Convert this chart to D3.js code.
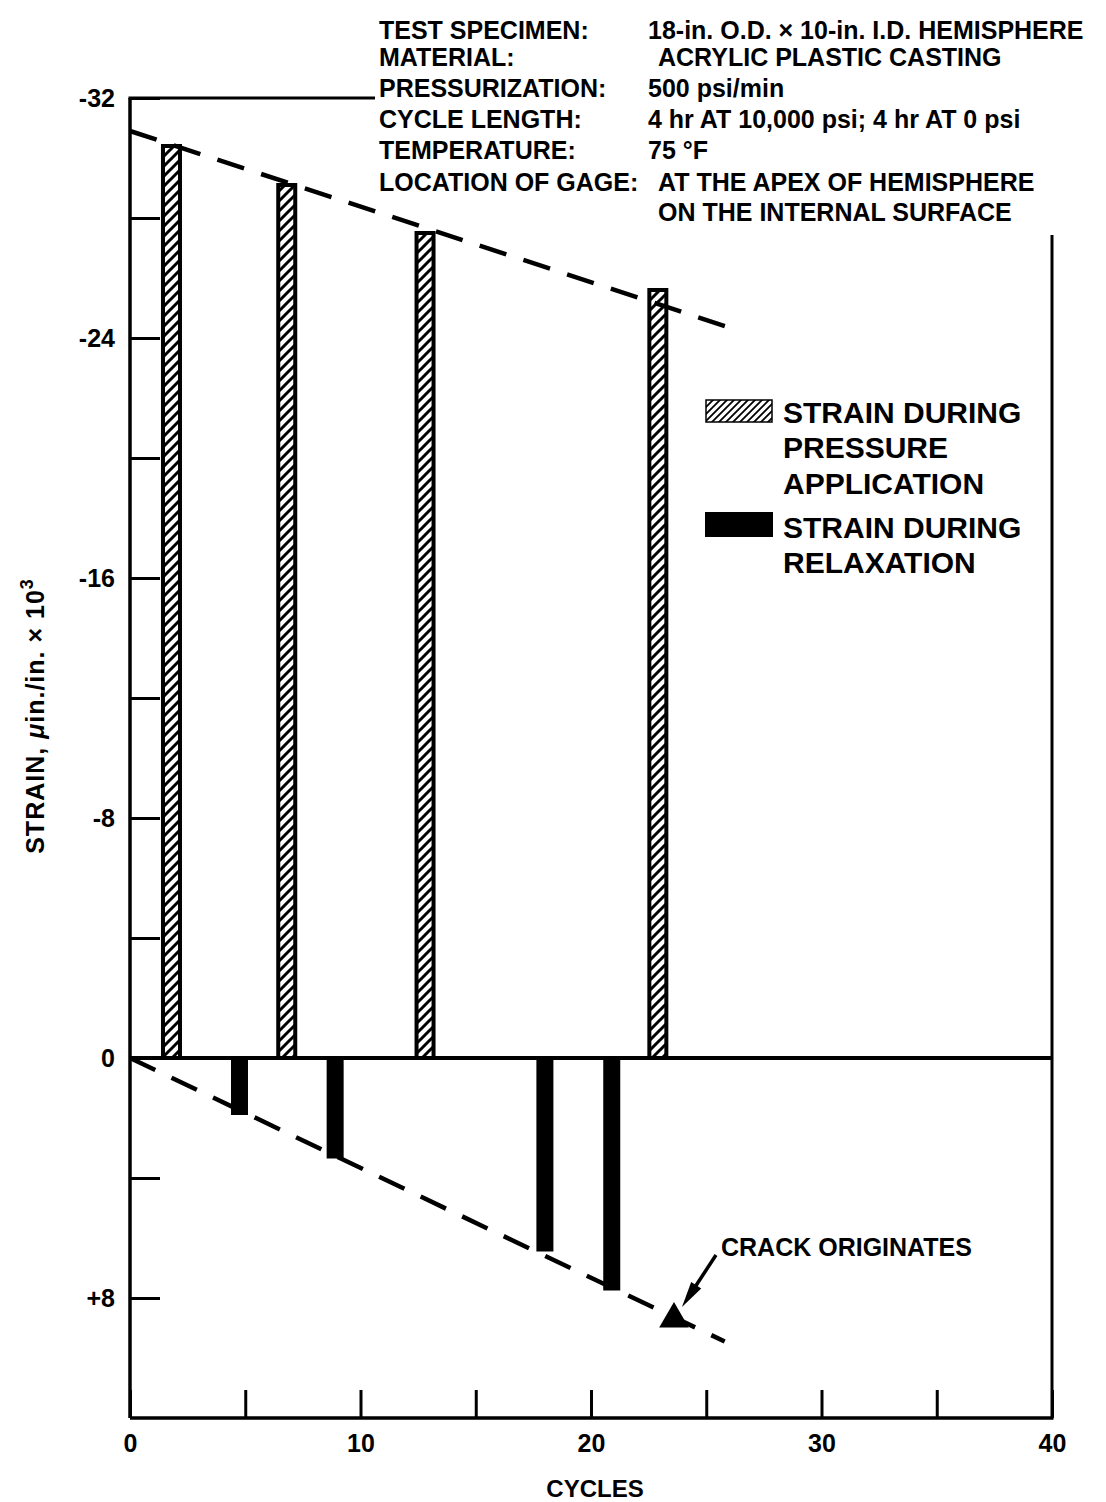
<!DOCTYPE html>
<html><head><meta charset="utf-8">
<script src="https://cdn.jsdelivr.net/npm/d3@7"></script>
<style>
body{margin:0;background:#fff}
svg{display:block}
text{font-family:"Liberation Sans",Arial,Helvetica,sans-serif;font-weight:bold;fill:#000}
</style>
</head><body>
<svg id="c" width="1106" height="1502"></svg>
<script>
// ---- data ----
const pressureCycles = [1.8, 6.8, 12.8, 22.9];
const pressureStrain = [-30.4, -29.1, -27.5, -25.6];
const relaxCycles = [4.75, 8.9, 18.0, 20.9];
const relaxStrain = [1.9, 3.35, 6.45, 7.75];
const pressureTrend = [[0, -30.9], [26.2, -24.3]];
const relaxTrend = [[0, 0], [25.8, 9.45]];
const crackPoint = [23.6, 8.7];
const xTickValues = [0, 5, 10, 15, 20, 25, 30, 35, 40];
const xTickLabels = ["0", "", "10", "", "20", "", "30", "", "40"];
const yTickValues = [-32, -28, -24, -20, -16, -12, -8, -4, 0, 4, 8];
const yTickLabels = ["-32", "", "-24", "", "-16", "", "-8", "", "0", "", "+8"];
const infoLabels = ["TEST SPECIMEN:", "MATERIAL:", "PRESSURIZATION:", "CYCLE LENGTH:", "TEMPERATURE:", "LOCATION OF GAGE:", ""];
const infoValues = ["18-in. O.D. \u00D7 10-in. I.D. HEMISPHERE", "ACRYLIC PLASTIC CASTING", "500 psi/min",
  "4 hr AT 10,000 psi; 4 hr AT 0 psi", "75 \u00B0F", "AT THE APEX OF HEMISPHERE", "ON THE INTERNAL SURFACE"];
const legendPressure = ["STRAIN DURING", "PRESSURE", "APPLICATION"];
const legendRelax = ["STRAIN DURING", "RELAXATION"];

// ---- layout ----
const svg = d3.select("#c");
const x = d3.scaleLinear().domain([0, 40]).range([130, 1052]);
const y = d3.scaleLinear().domain([-32, 12]).range([98, 1418]);
const barW = 17;

const defs = svg.append("defs");
defs.append("pattern").attr("id", "hatch").attr("patternUnits", "userSpaceOnUse")
  .attr("width", 10).attr("height", 10)
  .append("path").attr("d", "M-3,3 L3,-3 M0,10 L10,0 M7,13 L13,7")
  .attr("stroke", "#000").attr("stroke-width", 3);
defs.append("pattern").attr("id", "hatchL").attr("patternUnits", "userSpaceOnUse")
  .attr("width", 7).attr("height", 7)
  .append("path").attr("d", "M-2,2 L2,-2 M0,7 L7,0 M5,9 L9,5")
  .attr("stroke", "#000").attr("stroke-width", 1.8);

// axes frame
const g = svg.append("g");
g.append("line").attr("x1", x(0)).attr("x2", x(0)).attr("y1", y(-32)).attr("y2", y(12))
  .attr("stroke", "#000").attr("stroke-width", 3.5);
g.append("line").attr("x1", x(0) - 1.5).attr("x2", 375).attr("y1", y(-32)).attr("y2", y(-32))
  .attr("stroke", "#000").attr("stroke-width", 3);
g.append("line").attr("x1", x(40)).attr("x2", x(40)).attr("y1", 235).attr("y2", y(12))
  .attr("stroke", "#000").attr("stroke-width", 3);
g.append("line").attr("x1", x(0)).attr("x2", x(40) + 1.5).attr("y1", y(12)).attr("y2", y(12))
  .attr("stroke", "#000").attr("stroke-width", 3.5);

// y axis
const yAxis = d3.axisLeft(y).tickValues(yTickValues).tickSize(-30).tickPadding(15)
  .tickFormat((d, i) => yTickLabels[i]);
const ya = svg.append("g").attr("transform", `translate(${x(0)},0)`).call(yAxis);
ya.select(".domain").remove();
ya.selectAll(".tick line").attr("stroke", "#000").attr("stroke-width", 3);
ya.selectAll(".tick text").attr("font-size", 25).attr("font-family", "Liberation Sans").attr("font-weight", "bold");

// x axis
const xAxis = d3.axisBottom(x).tickValues(xTickValues).tickSize(-28).tickPadding(16)
  .tickFormat((d, i) => xTickLabels[i]);
const xa = svg.append("g").attr("transform", `translate(0,${y(12)})`).call(xAxis);
xa.select(".domain").remove();
xa.selectAll(".tick line").attr("stroke", "#000").attr("stroke-width", 3);
xa.selectAll(".tick text").attr("font-size", 25).attr("font-family", "Liberation Sans").attr("font-weight", "bold");

// zero line
svg.append("line").attr("x1", x(0)).attr("x2", x(40)).attr("y1", y(0)).attr("y2", y(0))
  .attr("stroke", "#000").attr("stroke-width", 4);

// pressure bars (hatched)
svg.append("g").selectAll("rect").data(pressureCycles).join("rect")
  .attr("x", d => x(d) - barW / 2)
  .attr("width", barW)
  .attr("y", (d, i) => y(pressureStrain[i]))
  .attr("height", (d, i) => y(0) - y(pressureStrain[i]))
  .attr("fill", "url(#hatch)").attr("stroke", "#000").attr("stroke-width", 4);

// relaxation bars (solid)
svg.append("g").selectAll("rect").data(relaxCycles).join("rect")
  .attr("x", d => x(d) - barW / 2)
  .attr("width", barW)
  .attr("y", y(0))
  .attr("height", (d, i) => y(relaxStrain[i]) - y(0))
  .attr("fill", "#000");

// trend lines
const line = d3.line().x(d => x(d[0])).y(d => y(d[1]));
[pressureTrend, relaxTrend].forEach(t => {
  svg.append("path").attr("d", line(t)).attr("fill", "none").attr("stroke", "#000")
    .attr("stroke-width", 4.5).attr("stroke-dasharray", "28,18");
});

// crack marker
const cx = x(crackPoint[0]), cy = y(crackPoint[1]);
svg.append("path").attr("d", d3.symbol().type(d3.symbolTriangle).size(380)())
  .attr("transform", `translate(${cx},${cy})`).attr("fill", "#000");
// arrow
const ax0 = 716, ay0 = 1255, ax1 = cx + 8, ay1 = cy - 12;
const ang = Math.atan2(ay1 - ay0, ax1 - ax0);
svg.append("line").attr("x1", ax0).attr("y1", ay0)
  .attr("x2", ax1 - 20 * Math.cos(ang)).attr("y2", ay1 - 20 * Math.sin(ang))
  .attr("stroke", "#000").attr("stroke-width", 3.5);
const hw = 6, hl = 26;
const bx = ax1 - hl * Math.cos(ang), by = ay1 - hl * Math.sin(ang);
svg.append("path").attr("d", `M${ax1},${ay1} L${bx - hw * Math.sin(ang)},${by + hw * Math.cos(ang)} L${bx + hw * Math.sin(ang)},${by - hw * Math.cos(ang)} Z`)
  .attr("fill", "#000");
svg.append("text").attr("x", 721).attr("y", 1256).attr("font-size", 25).text("CRACK ORIGINATES");

// info block
const infoY = [39, 66, 97, 128, 159, 191, 221];
const info = svg.append("g");
infoLabels.forEach((t, i) => {
  info.append("text").attr("x", 379).attr("y", infoY[i]).attr("font-size", 25).text(t);
});
infoValues.forEach((t, i) => {
  info.append("text").attr("x", (i === 1 || i === 5 || i === 6) ? 658 : 648).attr("y", infoY[i])
    .attr("font-size", 25).text(t);
});

// legend
const lg = svg.append("g");
lg.append("rect").attr("x", 706).attr("y", 400).attr("width", 66).attr("height", 22)
  .attr("fill", "url(#hatchL)").attr("stroke", "#000").attr("stroke-width", 1.5);
lg.append("rect").attr("x", 705).attr("y", 512).attr("width", 68).attr("height", 25).attr("fill", "#000");
[423, 458, 494].forEach((yy, i) => {
  lg.append("text").attr("x", 783).attr("y", yy).attr("font-size", 30).text(legendPressure[i]);
});
[538, 573].forEach((yy, i) => {
  lg.append("text").attr("x", 783).attr("y", yy).attr("font-size", 30).text(legendRelax[i]);
});

// axis titles
svg.append("text").attr("x", 595).attr("y", 1497).attr("text-anchor", "middle").attr("font-size", 24).text("CYCLES");
const yt = svg.append("text").attr("transform", "translate(44,716) rotate(-90)")
  .attr("text-anchor", "middle").attr("font-size", 25).attr("letter-spacing", 1);
yt.append("tspan").text("STRAIN, ");
yt.append("tspan").attr("font-style", "italic").text("\u03BC");
yt.append("tspan").text("in./in. \u00D7 10");
yt.append("tspan").attr("dy", -11).attr("font-size", 18).text("3");
</script>
</body></html>
